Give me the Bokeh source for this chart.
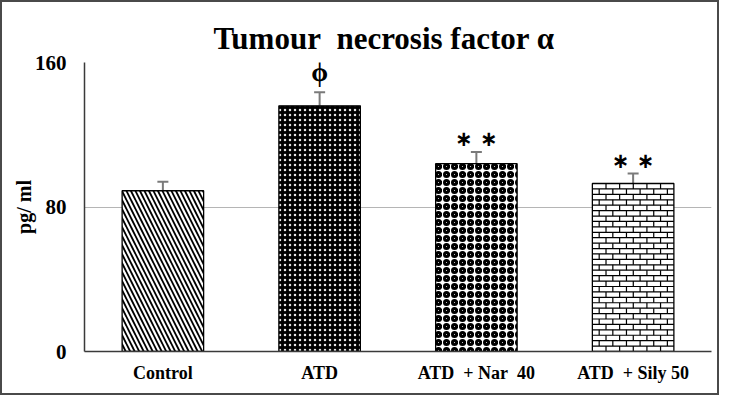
import numpy as np
from bokeh.plotting import figure
from bokeh.models import (FactorRange, Range1d, Whisker, TeeHead, ColumnDataSource,
                          FixedTicker)
from bokeh.core.properties import value
from bokeh.embed import file_html
from bokeh.resources import INLINE

# ---- data ----
groups = ["Control", "ATD", "ATD\u00a0\u00a0+ Nar\u00a0\u00a040", "ATD\u00a0\u00a0+ Sily 50"]
means = [89, 136, 104, 93]
errors = [5, 7.5, 6.5, 5.5]
marks = ["", "\u03d5", "\u2217 \u2217", "\u2217 \u2217"]
yticks = [0, 80, 160]
title_text = "Tumour\u00a0\u00a0necrosis factor \u03b1"
y_label = "pg/ ml"

SERIF = "Liberation Serif"
BAR_W = 0.52

p = figure(width=719, height=395, x_range=FactorRange(*groups, range_padding=0),
           y_range=Range1d(0, 160), output_backend="svg", toolbar_location=None,
           min_border_left=82, min_border_right=10, min_border_top=60, min_border_bottom=46)
p.styles = {"border": "2px solid #4a4a4a", "box-sizing": "border-box"}

p.title.text = title_text
p.title.text_font = SERIF
p.title.text_font_style = "bold"
p.title.text_font_size = "31px"
p.title.align = "left"
p.title.offset = 129
p.title.standoff = 13
p.title.text_color = "black"

p.outline_line_color = None
p.background_fill_color = "white"
p.border_fill_color = "white"

# bar fills (built-in hatch patterns)
fills = [
    dict(fill_color="white", hatch_pattern="left_diagonal_line", hatch_color="black",
         hatch_scale=9, hatch_weight=1.8),
    dict(fill_color="black", hatch_pattern="dot", hatch_color="#e6e6e6",
         hatch_scale=5),
    dict(fill_color="white", hatch_pattern="ring", hatch_color="black",
         hatch_scale=8, hatch_weight=3),
    dict(fill_color="white"),
]
for g, m, st in zip(groups, means, fills):
    p.vbar(x=[g], top=[m], width=BAR_W, line_color=None, **st)

# brick pattern for the last bar, computed from its value
def bricks(i, top, row=3.0, bw=0.087):
    xc = i + 0.5
    left, right = xc - BAR_W / 2, xc + BAR_W / 2
    x0, y0, x1, y1 = [], [], [], []
    for y in np.arange(row, top, row):
        x0.append(left); x1.append(right); y0.append(y); y1.append(y)
    for r, yb in enumerate(np.arange(0, top, row)):
        yt = min(yb + row, top)
        shift = bw / 2 if r % 2 else 0.0
        for xv in np.arange(left + shift + (bw if shift == 0 else 0), right - 0.01, bw):
            x0.append(xv); x1.append(xv); y0.append(yb); y1.append(yt)
    return dict(x0=x0, y0=y0, x1=x1, y1=y1)

p.segment(x0="x0", y0="y0", x1="x1", y1="y1", source=ColumnDataSource(bricks(3, means[3])),
          line_color="black", line_width=1.2)

# bar outlines
p.vbar(x=groups, top=means, width=BAR_W, fill_color=None, line_color="black", line_width=1.3)

src = ColumnDataSource(dict(x=groups,
                            lower=[m - e for m, e in zip(means, errors)],
                            upper=[m + e for m, e in zip(means, errors)]))
w = Whisker(source=src, base="x", lower="lower", upper="upper", dimension="height",
            line_color="#7a7a7a", line_width=2, lower_head=None,
            upper_head=TeeHead(size=11, line_color="#7a7a7a", line_width=2))
p.add_layout(w)

phi_idx = [i for i, k in enumerate(marks) if k == "\u03d5"]
ast_idx = [i for i, k in enumerate(marks) if k.startswith("\u2217")]
phi = ColumnDataSource(dict(x=[groups[i] for i in phi_idx],
                            y=[means[i] + errors[i] for i in phi_idx],
                            t=[marks[i] for i in phi_idx]))
ast = ColumnDataSource(dict(x=[groups[i] for i in ast_idx],
                            y=[means[i] + errors[i] for i in ast_idx],
                            t=[marks[i] for i in ast_idx]))
p.text(x="x", y="y", text="t", source=phi, text_align="center", text_baseline="middle",
       y_offset=-20, text_font=value(SERIF), text_font_style="bold",
       text_font_size="27px", text_color="black")
p.text(x="x", y="y", text="t", source=ast, text_align="center", text_baseline="middle",
       y_offset=-13, text_font=value("DejaVu Sans"), text_font_style="bold",
       text_font_size="21px", text_color="black")

# axes
p.yaxis.ticker = FixedTicker(ticks=yticks)
p.yaxis.axis_label = y_label
for ax in (p.xaxis[0], p.yaxis[0]):
    ax.axis_line_color = "#3a3a3a"
    ax.axis_line_width = 1.5
    ax.major_tick_line_color = None
    ax.minor_tick_line_color = None
    ax.major_label_text_font = SERIF
    ax.major_label_text_font_style = "bold"
    ax.major_label_text_color = "black"
p.yaxis.major_label_text_font_size = "21px"
p.yaxis.major_label_standoff = 12
p.yaxis.axis_label_text_font = SERIF
p.yaxis.axis_label_text_font_style = "bold"
p.yaxis.axis_label_text_font_size = "20px"
p.yaxis.axis_label_standoff = -3
p.yaxis.axis_label_text_color = "black"
p.xaxis.major_label_text_font_size = "18px"
p.xaxis.major_label_standoff = 5

p.xgrid.grid_line_color = None
p.ygrid.grid_line_color = "#b5b5b5"
p.ygrid.grid_line_width = 1

open("out.html", "w").write(file_html(p, INLINE))
